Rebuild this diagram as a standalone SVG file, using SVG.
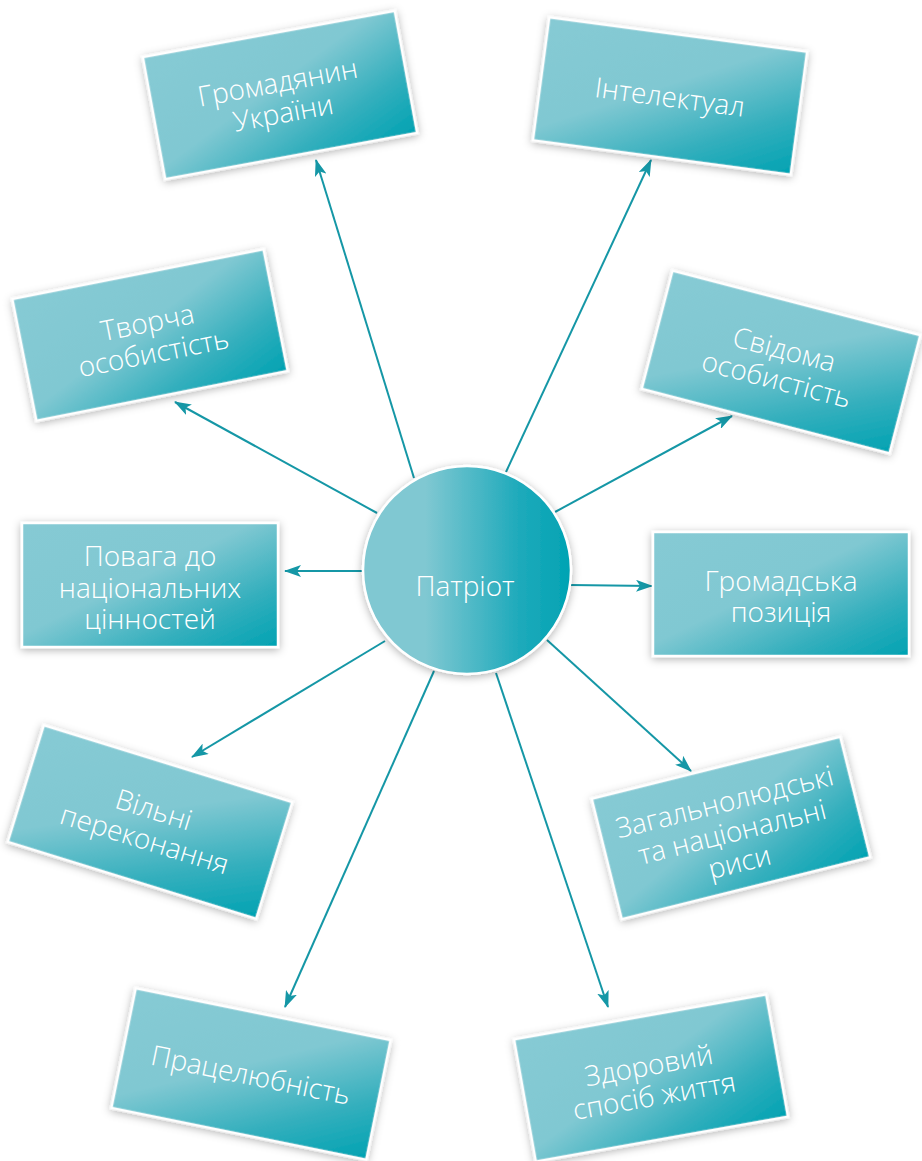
<svg xmlns="http://www.w3.org/2000/svg" width="922" height="1161" viewBox="0 0 922 1161">
<defs>
<linearGradient id="boxg" x1="0" y1="0" x2="1" y2="1">
<stop offset="0" stop-color="#86cad4"/>
<stop offset="0.45" stop-color="#80c8d2"/>
<stop offset="0.75" stop-color="#34afbd"/>
<stop offset="1" stop-color="#00a2b2"/>
</linearGradient>
<linearGradient id="circg" x1="0" y1="0" x2="1" y2="0">
<stop offset="0" stop-color="#80c8d2"/>
<stop offset="0.3" stop-color="#80c8d2"/>
<stop offset="0.75" stop-color="#1eaabb"/>
<stop offset="1" stop-color="#00a3b3"/>
</linearGradient>
<filter id="sh" x="-20%" y="-20%" width="140%" height="140%">
<feDropShadow dx="0" dy="2" stdDeviation="4" flood-color="#000" flood-opacity="0.3"/>
</filter>
<marker id="arr" markerUnits="userSpaceOnUse" markerWidth="18" markerHeight="12" refX="16" refY="6" orient="auto">
<path d="M0,0 L17,6 L0,12 L4,6 Z" fill="#1597a6"/>
</marker>
<style>
.box{fill:url(#boxg);stroke:#fff;stroke-width:2.5;filter:url(#sh)}
.circ{fill:url(#circg);stroke:#fff;stroke-width:2.5;filter:url(#sh)}
.t{font-family:"Open Sans","Liberation Sans",sans-serif;font-weight:300;font-size:28px;fill:#fff;text-anchor:middle}
.c line{stroke:#1597a6;stroke-width:2;marker-end:url(#arr)}
</style>
</defs>
<g class="c" id="connectors">
<line x1="414" y1="478" x2="316" y2="160"/>
<line x1="506" y1="472" x2="651" y2="160"/>
<line x1="377" y1="513" x2="175" y2="402"/>
<line x1="555" y1="512" x2="732" y2="416"/>
<line x1="362" y1="571" x2="285" y2="571"/>
<line x1="570" y1="585" x2="652" y2="586"/>
<line x1="385" y1="641" x2="192" y2="757"/>
<line x1="547" y1="640" x2="691" y2="771"/>
<line x1="434" y1="671" x2="285" y2="1007"/>
<line x1="496" y1="673" x2="608" y2="1007"/>
</g>
<g id="n1" transform="translate(280,95) rotate(-10.4)">
<rect class="box" x="-128" y="-62" width="256" height="124"/>
<text class="t" y="-3">Громадянин</text>
<text class="t" y="28">України</text>
</g>
<g id="n2" transform="translate(670,96) rotate(7.6)">
<rect class="box" x="-130" y="-62" width="260" height="124"/>
<text class="t" y="11">Інтелектуал</text>
</g>
<g id="n3" transform="translate(150,335) rotate(-11.2)">
<rect class="box" x="-128" y="-62" width="256" height="124"/>
<text class="t" y="-3">Творча</text>
<text class="t" y="28">особистість</text>
</g>
<g id="n4" transform="translate(781,362) rotate(14.6)">
<rect class="box" x="-128" y="-61" width="256" height="122"/>
<text class="t" y="-3">Свідома</text>
<text class="t" y="28">особистість</text>
</g>
<g id="n5" transform="translate(150,585)">
<rect class="box" x="-128" y="-62" width="256" height="124"/>
<text class="t" y="-19">Повага до</text>
<text class="t" y="13">національних</text>
<text class="t" y="44">цінностей</text>
</g>
<g id="n6" transform="translate(781,594)">
<rect class="box" x="-128" y="-62" width="256" height="124"/>
<text class="t" y="-3">Громадська</text>
<text class="t" y="28">позиція</text>
</g>
<g id="n7" transform="translate(150,822) rotate(17.2)">
<rect class="box" x="-130" y="-61" width="260" height="122"/>
<text class="t" y="-3">Вільні</text>
<text class="t" y="28">переконання</text>
</g>
<g id="n8" transform="translate(731,828) rotate(-14)">
<rect class="box" x="-128" y="-62" width="256" height="124"/>
<text class="t" y="-17">Загальнолюдські</text>
<text class="t" y="14">та національні</text>
<text class="t" y="45">риси</text>
</g>
<g id="n9" transform="translate(251,1074) rotate(11.5)">
<rect class="box" x="-130" y="-61" width="260" height="122"/>
<text class="t" y="11">Працелюбність</text>
</g>
<g id="n10" transform="translate(651,1078) rotate(-10.1)">
<rect class="box" x="-128" y="-62" width="256" height="124"/>
<text class="t" y="-3">Здоровий</text>
<text class="t" y="28">спосіб життя</text>
</g>
<g id="center">
<circle class="circ" cx="467" cy="570" r="104"/>
<text class="t" x="465" y="596">Патріот</text>
</g>
</svg>
